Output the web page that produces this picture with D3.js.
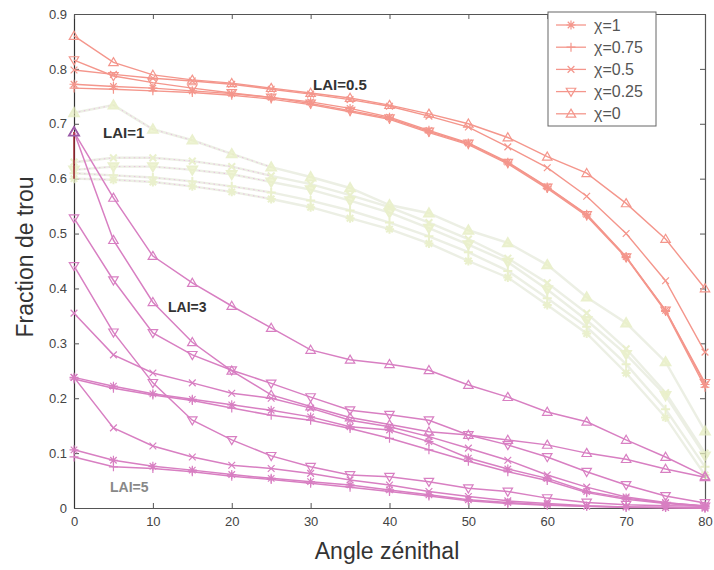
<!DOCTYPE html>
<html><head><meta charset="utf-8">
<script src="https://cdn.jsdelivr.net/npm/d3@7"></script>
<style>body{margin:0;background:#fff}svg{display:block}text{font-family:"Liberation Sans",Arial,sans-serif}</style>
</head><body><svg id="c" width="714" height="570"></svg>
<script>
const angles = [0,5,10,15,20,25,30,35,40,45,50,55,60,65,70,75,80];
const chiLabels = ["χ=1","χ=0.75","χ=0.5","χ=0.25","χ=0"];
const markerTypes = ["star","plus","cross","triDown","triUp"];
const xTicks = [0,10,20,30,40,50,60,70,80];
const yTicks = [0,0.1,0.2,0.3,0.4,0.5,0.6,0.7,0.8,0.9];
const laiLabels = ["LAI=0.5","LAI=1","LAI=3","LAI=5"];

// LAI = 0.5
const lai05_chi1   = [0.772,0.768,0.765,0.760,0.755,0.748,0.740,0.728,0.712,0.688,0.665,0.630,0.585,0.535,0.458,0.360,0.225];
const lai05_chi075 = [0.765,0.763,0.760,0.757,0.752,0.745,0.735,0.722,0.708,0.684,0.662,0.627,0.582,0.532,0.456,0.358,0.220];
const lai05_chi05  = [0.798,0.790,0.783,0.778,0.772,0.763,0.754,0.744,0.732,0.714,0.694,0.658,0.620,0.568,0.500,0.414,0.284];
const lai05_chi025 = [0.816,0.787,0.775,0.765,0.756,0.748,0.737,0.724,0.710,0.686,0.664,0.629,0.584,0.534,0.457,0.360,0.228];
const lai05_chi0   = [0.860,0.812,0.789,0.780,0.774,0.765,0.756,0.747,0.734,0.718,0.700,0.675,0.640,0.610,0.555,0.490,0.400];
// LAI = 1
const lai1_chi1   = [0.600,0.598,0.594,0.586,0.576,0.563,0.548,0.528,0.508,0.482,0.450,0.420,0.370,0.318,0.246,0.165,0.060];
const lai1_chi075 = [0.610,0.606,0.602,0.595,0.586,0.575,0.560,0.542,0.520,0.495,0.466,0.432,0.382,0.330,0.262,0.180,0.075];
const lai1_chi05  = [0.630,0.638,0.638,0.632,0.622,0.605,0.590,0.570,0.548,0.520,0.490,0.455,0.410,0.355,0.290,0.210,0.100];
const lai1_chi025 = [0.616,0.622,0.622,0.616,0.608,0.594,0.580,0.560,0.538,0.510,0.480,0.448,0.398,0.342,0.280,0.205,0.095];
const lai1_chi0   = [0.720,0.734,0.690,0.670,0.645,0.621,0.603,0.583,0.552,0.537,0.506,0.483,0.443,0.384,0.337,0.266,0.140];
// LAI = 3
const lai3_chi1   = [0.238,0.222,0.208,0.198,0.188,0.178,0.166,0.148,0.142,0.121,0.091,0.071,0.054,0.030,0.018,0.009,0.004];
const lai3_chi075 = [0.235,0.218,0.206,0.196,0.182,0.169,0.160,0.145,0.127,0.106,0.085,0.066,0.050,0.028,0.016,0.008,0.003];
const lai3_chi05  = [0.355,0.279,0.246,0.228,0.209,0.200,0.182,0.160,0.148,0.130,0.109,0.087,0.060,0.038,0.020,0.010,0.003];
const lai3_chi025 = [0.528,0.415,0.319,0.279,0.251,0.227,0.202,0.178,0.170,0.160,0.133,0.115,0.093,0.066,0.042,0.022,0.009];
const lai3_chi0   = [0.685,0.565,0.459,0.410,0.368,0.328,0.288,0.270,0.262,0.251,0.224,0.202,0.175,0.157,0.124,0.093,0.058];
// LAI = 5
const lai5_chi1   = [0.106,0.087,0.076,0.069,0.061,0.054,0.048,0.042,0.033,0.024,0.015,0.010,0.006,0.003,0.002,0.001,0.000];
const lai5_chi075 = [0.093,0.075,0.072,0.066,0.058,0.052,0.045,0.038,0.030,0.022,0.013,0.008,0.005,0.003,0.001,0.001,0.000];
const lai5_chi05  = [0.238,0.146,0.113,0.093,0.078,0.072,0.063,0.051,0.042,0.030,0.021,0.013,0.008,0.004,0.002,0.001,0.000];
const lai5_chi025 = [0.441,0.320,0.228,0.160,0.124,0.095,0.075,0.060,0.057,0.048,0.036,0.030,0.018,0.010,0.006,0.004,0.003];
const lai5_chi0   = [0.685,0.488,0.375,0.302,0.250,0.206,0.185,0.165,0.152,0.139,0.133,0.124,0.115,0.100,0.089,0.071,0.056];

const groups = [
  {series:[lai05_chi1,lai05_chi075,lai05_chi05,lai05_chi025,lai05_chi0], color:"#f4968c", mcolor:"#f4968c", width:1.4, op:1},
  {series:[lai1_chi1,lai1_chi075,lai1_chi05,lai1_chi025,lai1_chi0], color:"#e6eadb", mcolor:"#e3ecbd", width:2.4, op:0.75, faint:true},
  {series:[lai3_chi1,lai3_chi075,lai3_chi05,lai3_chi025,lai3_chi0], color:"#d87fc2", mcolor:"#d87fc2", width:1.5, op:1},
  {series:[lai5_chi1,lai5_chi075,lai5_chi05,lai5_chi025,lai5_chi0], color:"#d87fc2", mcolor:"#d87fc2", width:1.5, op:1}
];

const svg = d3.select("#c");
const m = {l:74, r:705, t:14, b:508};
const x = d3.scaleLinear().domain([0,80]).range([m.l,m.r]);
const y = d3.scaleLinear().domain([0,0.9]).range([m.b,m.t]);

function markerPath(type, s){
  const h = s/2;
  switch(type){
    case "star": return `M${-h},0H${h}M0,${-h}V${h}M${-h*0.72},${-h*0.72}L${h*0.72},${h*0.72}M${-h*0.72},${h*0.72}L${h*0.72},${-h*0.72}`;
    case "plus": return `M${-h},0H${h}M0,${-h}V${h}`;
    case "cross": return `M${-h*0.75},${-h*0.75}L${h*0.75},${h*0.75}M${-h*0.75},${h*0.75}L${h*0.75},${-h*0.75}`;
    case "triUp": return `M0,${-h*1.05}L${h*1.05},${h*0.75}L${-h*1.05},${h*0.75}Z`;
    case "triDown": return `M0,${h*1.05}L${h*1.05},${-h*0.75}L${-h*1.05},${-h*0.75}Z`;
  }
}

// axes
const gx = svg.append("g").attr("transform",`translate(0,${m.b})`)
  .call(d3.axisBottom(x).tickValues(xTicks).tickSizeInner(-5).tickSizeOuter(0).tickPadding(9).tickFormat(d3.format("d")));
const gy = svg.append("g").attr("transform",`translate(${m.l},0)`)
  .call(d3.axisLeft(y).tickValues(yTicks).tickSizeInner(-5).tickSizeOuter(0).tickPadding(7).tickFormat(d=> d===0?"0":d3.format(".1f")(d)));
const gt = svg.append("g").attr("transform",`translate(0,${m.t})`)
  .call(d3.axisTop(x).tickValues(xTicks).tickSizeInner(-5).tickSizeOuter(0).tickFormat(""));
const gr = svg.append("g").attr("transform",`translate(${m.r},0)`)
  .call(d3.axisRight(y).tickValues(yTicks).tickSizeInner(-5).tickSizeOuter(0).tickFormat(""));
[gx,gy,gt,gr].forEach(g=>{
  g.selectAll(".domain").attr("stroke","#555").attr("stroke-width",1.2);
  g.selectAll(".tick line").attr("stroke","#555");
  g.selectAll("text").attr("fill","#444").attr("font-size",13);
});
gy.select(".domain").attr("stroke","#333");

const line = d3.line().x((d,i)=>x(angles[i])).y(d=>y(d));
const order = [1,0,2,3];
order.forEach(gi=>{
  const g = groups[gi];
  const gg = svg.append("g").attr("opacity",g.op);
  g.series.forEach((s,si)=>{
    gg.append("path").attr("d",line(s)).attr("fill","none")
      .attr("stroke",g.color).attr("stroke-width",g.width);
    if(g.faint){
      const early = s.filter((v,i)=>angles[i]<=25);
      gg.append("path").attr("d",line(early)).attr("fill","none")
        .attr("stroke","#dc8fd0").attr("stroke-width",1).attr("stroke-dasharray","1.5,3.5").attr("opacity",0.7);
    }
    gg.selectAll(null).data(s).enter().append("path")
      .attr("transform",(d,i)=>`translate(${x(angles[i])},${y(d)})`)
      .attr("d",markerPath(markerTypes[si], 9))
      .attr("fill", g.faint ? "#e2edb0" : "none")
      .attr("fill-opacity", g.faint?0.7:1)
      .attr("stroke",g.mcolor).attr("stroke-width",g.faint?2:1.2);
  });
});

// dark start marker
svg.append("line").attr("x1",x(0)).attr("x2",x(0)).attr("y1",y(0.6)).attr("y2",y(lai3_chi0[0]))
  .attr("stroke","#a0202a").attr("stroke-width",1.4);
svg.append("path").attr("transform",`translate(${x(angles[0])},${y(lai3_chi0[0])})`)
  .attr("d",markerPath("triUp",10)).attr("fill","none").attr("stroke","#9a5ca8").attr("stroke-width",1.6);

// group labels
const labelPos = [[313,90,"#333",15],[103,138,"#333",15],[168,312,"#333",14],[110,492,"#888",14]];
laiLabels.forEach((t,i)=>{
  svg.append("text").attr("x",labelPos[i][0]).attr("y",labelPos[i][1]).text(t)
    .attr("font-weight","bold").attr("font-size",labelPos[i][3]).attr("fill",labelPos[i][2]);
});

// legend
const lg = svg.append("g");
lg.append("rect").attr("x",548).attr("y",12).attr("width",108).attr("height",114)
  .attr("fill","#fff").attr("stroke","#666").attr("stroke-width",1);
chiLabels.forEach((t,i)=>{
  const yy = 25 + i*22.2;
  lg.append("line").attr("x1",556).attr("x2",586).attr("y1",yy).attr("y2",yy)
    .attr("stroke","#f4968c").attr("stroke-width",1.3);
  lg.append("path").attr("transform",`translate(571,${yy})`).attr("d",markerPath(markerTypes[i],9))
    .attr("fill","none").attr("stroke","#f4968c").attr("stroke-width",1.2);
  lg.append("text").attr("x",594).attr("y",yy+5.5).text(t).attr("font-size",16).attr("fill","#555");
});

// axis titles
svg.append("text").attr("x",387).attr("y",559).attr("text-anchor","middle")
  .attr("font-size",23).attr("fill","#333").text("Angle zénithal");
svg.append("text").attr("transform","translate(33,257) rotate(-90)").attr("text-anchor","middle")
  .attr("font-size",23).attr("fill","#333").text("Fraction de trou");
</script></body></html>
